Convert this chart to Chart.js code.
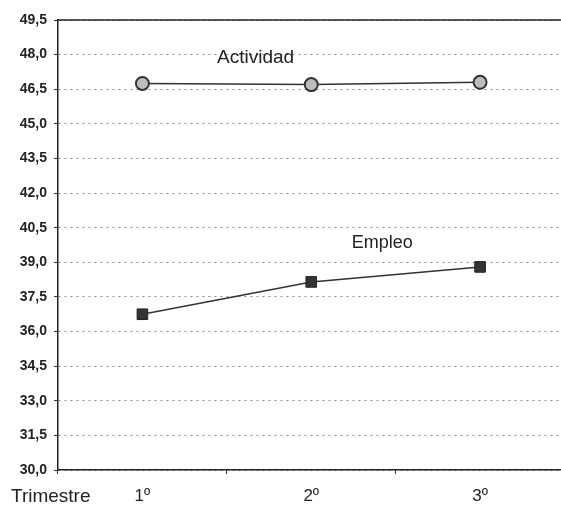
<!DOCTYPE html>
<html>
<head>
<meta charset="utf-8">
<script src="https://cdn.jsdelivr.net/npm/chart.js@4/dist/chart.umd.min.js"></script>
<style>
  html, body { margin: 0; padding: 0; background: #fff; overflow: hidden; }
  #wrap { width: 573px; height: 507px; }
</style>
</head>
<body>
<div id="wrap"><canvas id="rateChart" width="573" height="507"></canvas></div>
<script>
const quarters = ["1º", "2º", "3º"];
const actividad = [46.75, 46.7, 46.8];
const empleo = [36.75, 38.15, 38.8];
const axisLabel = "Trimestre";

const fontFamily = "'Liberation Sans', Arial, sans-serif";

// series names written inside the plot, plus the top frame line and "Trimestre"
const extraText = {
  id: "extraText",
  afterDraw(chart) {
    const { ctx, chartArea, scales } = chart;
    ctx.save();
    ctx.strokeStyle = "#222";
    ctx.lineWidth = 1.5;
    ctx.beginPath();
    ctx.moveTo(chartArea.left, chartArea.top);
    ctx.lineTo(chartArea.right, chartArea.top);
    ctx.stroke();

    ctx.fillStyle = "#222";
    ctx.textAlign = "center";
    ctx.textBaseline = "middle";
    ctx.font = "19px " + fontFamily;
    ctx.fillText("Actividad", scales.x.getPixelForValue(0.67), scales.y.getPixelForValue(47.85));
    ctx.font = "18px " + fontFamily;
    ctx.fillText("Empleo", scales.x.getPixelForValue(1.42), scales.y.getPixelForValue(39.85));

    ctx.textAlign = "left";
    ctx.font = "19px " + fontFamily;
    ctx.fillText(axisLabel, 11, 497);
    ctx.restore();
  }
};

new Chart(document.getElementById("rateChart"), {
  type: "line",
  data: {
    labels: quarters,
    datasets: [
      {
        label: "Actividad",
        data: actividad,
        borderColor: "#333",
        borderWidth: 1.5,
        pointStyle: "circle",
        pointRadius: 6.5,
        pointBorderWidth: 2,
        pointBorderColor: "#333",
        pointBackgroundColor: "#bdbdbd",
        tension: 0
      },
      {
        label: "Empleo",
        data: empleo,
        borderColor: "#333",
        borderWidth: 1.5,
        pointStyle: "rect",
        pointRadius: 7.5,
        pointBorderWidth: 1,
        pointBorderColor: "#222",
        pointBackgroundColor: "#333",
        tension: 0
      }
    ]
  },
  options: {
    responsive: false,
    animation: false,
    layout: { padding: { top: 20, right: 0, left: 0, bottom: 0 } },
    plugins: {
      legend: { display: false },
      tooltip: { enabled: false }
    },
    scales: {
      x: {
        type: "category",
        offset: true,
        afterFit: s => { s.height = 37; },
        grid: {
          offset: true,
          drawOnChartArea: false,
          tickLength: 4,
          tickColor: "#333"
        },
        border: { display: true, color: "#222", width: 1.5 },
        ticks: {
          color: "#222",
          padding: 12,
          font: { family: fontFamily, size: 17 }
        }
      },
      y: {
        min: 30,
        max: 49.5,
        afterFit: s => { s.width = 58; },
        grid: {
          color: "#8a8a8a",
          lineWidth: 1,
          tickLength: 4,
          tickColor: "#333"
        },
        border: { display: true, color: "#222", width: 1.5, dash: [2, 4] },
        ticks: {
          stepSize: 1.5,
          color: "#222",
          padding: 7,
          font: { family: fontFamily, size: 14, weight: "bold" },
          callback: v => Number(v).toFixed(1).replace(".", ",")
        }
      }
    }
  },
  plugins: [extraText]
});
</script>
</body>
</html>
